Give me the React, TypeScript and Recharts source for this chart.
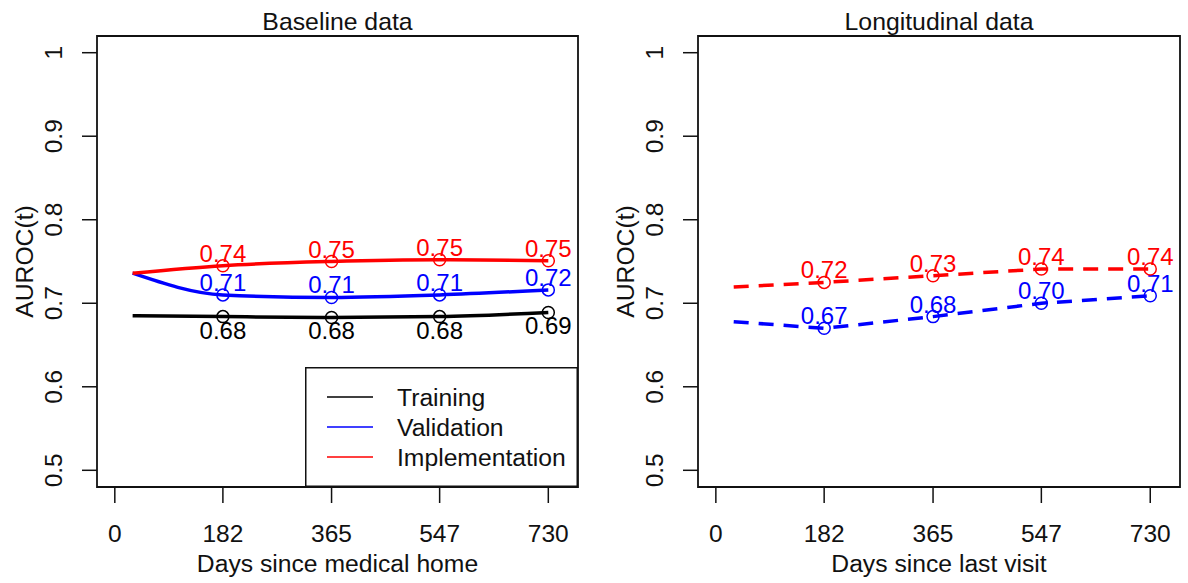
import { LineChart, Line, XAxis, YAxis, ReferenceArea, Legend, Label } from "recharts";

// days at which AUROC(t) was evaluated (first point is the curve start, no marker)
const days = [30, 182, 365, 547, 730];
const xTicks = [0, 182, 365, 547, 730];
const yTicks = [0.5, 0.6, 0.7, 0.8, 0.9, 1];

const baseTraining = [0.685, 0.684, 0.683, 0.684, 0.689];
const baseValidation = [0.736, 0.71, 0.707, 0.71, 0.716];
const baseImplementation = [0.736, 0.745, 0.75, 0.752, 0.751];
const baseTrainingLabels = ["", "0.68", "0.68", "0.68", "0.69"];
const baseValidationLabels = ["", "0.71", "0.71", "0.71", "0.72"];
const baseImplementationLabels = ["", "0.74", "0.75", "0.75", "0.75"];

const longValidation = [0.678, 0.67, 0.684, 0.7, 0.709];
const longImplementation = [0.7195, 0.725, 0.733, 0.741, 0.741];
const longValidationLabels = ["", "0.67", "0.68", "0.70", "0.71"];
const longImplementationLabels = ["", "0.72", "0.73", "0.74", "0.74"];

const FONT = '"Liberation Sans", Arial, Helvetica, sans-serif';
const INK = "#111";

interface Series {
  key: string;
  name: string;
  color: string;
  values: number[];
  labels: string[];
  below?: boolean;
}

function makeRows(series: Series[]) {
  return days.map((d, i) => {
    const row: Record<string, number> = { day: d };
    series.forEach((s) => (row[s.key] = s.values[i]));
    return row;
  });
}

function makeDot(s: Series) {
  return (props: any) => {
    const { cx, cy, index } = props;
    if (index === 0 || cx == null || cy == null) return <g key={`${s.key}-${index}`} />;
    return (
      <g key={`${s.key}-${index}`}>
        <circle cx={cx} cy={cy} r={6} fill="none" stroke={s.color} strokeWidth={1.5} />
        <text
          x={cx}
          y={s.below ? cy + 22 : cy - 4}
          textAnchor="middle"
          fontSize={24}
          fontFamily={FONT}
          fill={s.color}
        >
          {s.labels[index]}
        </text>
      </g>
    );
  };
}

function legendContent(series: Series[]) {
  return () => (
    <svg width={273} height={120} style={{ display: "block" }}>
      <rect x={0.75} y={0.75} width={271.5} height={118.5} fill="#fff" stroke={INK} strokeWidth={1.5} />
      {series.map((s, i) => (
        <g key={s.key}>
          <line x1={22} x2={68} y1={30 + i * 30} y2={30 + i * 30} stroke={s.color} strokeWidth={1.5} />
          <text x={92} y={38.5 + i * 30} fontSize={24.7} fontFamily={FONT} fill={INK}>
            {s.name}
          </text>
        </g>
      ))}
    </svg>
  );
}

interface PanelProps {
  title: string;
  xLabel: string;
  series: Series[];
  width: number;
  marginLeft: number;
  marginRight: number;
  dashed?: boolean;
  curve: "monotone" | "linear";
  legend?: boolean;
}

function Panel({ title, xLabel, series, width, marginLeft, marginRight, dashed, curve, legend }: PanelProps) {
  const rows = makeRows(series);
  const plotLeft = marginLeft + 60;

  const xTick = (props: any) => (
    <text x={props.x} y={542} textAnchor="middle" fontSize={24.5} fontFamily={FONT} fill={INK}>
      {props.payload.value}
    </text>
  );
  const yTick = (props: any) => {
    const cx = plotLeft - 44;
    return (
      <text
        x={cx}
        y={props.y}
        dy="0.35em"
        transform={`rotate(-90 ${cx} ${props.y})`}
        textAnchor="middle"
        fontSize={24.5}
        fontFamily={FONT}
        fill={INK}
      >
        {String(props.payload.value)}
      </text>
    );
  };

  return (
    <LineChart
      width={width}
      height={583}
      data={rows}
      margin={{ top: 36, right: marginRight, bottom: 36, left: marginLeft }}
    >
      <XAxis
        type="number"
        dataKey="day"
        domain={[-30, 780]}
        ticks={xTicks}
        interval={0}
        allowDataOverflow
        height={60}
        tickSize={16}
        axisLine={false}
        tickLine={{ stroke: INK, strokeWidth: 1.5 }}
        tick={xTick}
        label={
          <Label
            content={(p: any) => {
              const vb = p.viewBox || {};
              return (
                <text x={vb.x + vb.width / 2} y={572} textAnchor="middle" fontSize={24.7} fontFamily={FONT} fill={INK}>
                  {xLabel}
                </text>
              );
            }}
          />
        }
      />
      <YAxis
        type="number"
        domain={[0.48, 1.02]}
        ticks={yTicks}
        interval={0}
        allowDataOverflow
        width={60}
        tickSize={15}
        axisLine={false}
        tickLine={{ stroke: INK, strokeWidth: 1.5 }}
        tick={yTick}
        label={
          <Label
            content={(p: any) => {
              const vb = p.viewBox || {};
              const cy = vb.y + vb.height / 2;
              const cx = plotLeft - 72.5;
              return (
                <text
                  x={cx}
                  y={cy}
                  dy="0.35em"
                  transform={`rotate(-90 ${cx} ${cy})`}
                  textAnchor="middle"
                  fontSize={24.7}
                  fontFamily={FONT}
                  fill={INK}
                >
                  AUROC(t)
                </text>
              );
            }}
          />
        }
      />
      <ReferenceArea
        x1={-30}
        x2={780}
        y1={0.48}
        y2={1.02}
        fill="none"
        fillOpacity={0}
        stroke={INK}
        strokeWidth={1.8}
        label={
          <Label
            content={(p: any) => {
              const vb = p.viewBox || {};
              return (
                <text x={vb.x + vb.width / 2} y={30} textAnchor="middle" fontSize={24.8} fontFamily={FONT} fill={INK}>
                  {title}
                </text>
              );
            }}
          />
        }
      />
      {series.map((s) => (
        <Line
          key={s.key}
          type={curve}
          dataKey={s.key}
          name={s.name}
          stroke={s.color}
          strokeWidth={3.5}
          strokeDasharray={dashed ? "15 10" : undefined}
          dot={makeDot(s)}
          activeDot={false}
          isAnimationActive={false}
        />
      ))}
      {legend && (
        <Legend
          layout="vertical"
          align="center"
          verticalAlign="middle"
          wrapperStyle={{ left: 305, top: 367, width: 273, height: 120 }}
          content={legendContent(series)}
        />
      )}
    </LineChart>
  );
}

const baselineSeries: Series[] = [
  { key: "train", name: "Training", color: "#000000", values: baseTraining, labels: baseTrainingLabels, below: true },
  { key: "valid", name: "Validation", color: "#0000ff", values: baseValidation, labels: baseValidationLabels },
  { key: "impl", name: "Implementation", color: "#ff0000", values: baseImplementation, labels: baseImplementationLabels },
];

const longSeries: Series[] = [
  { key: "valid", name: "Validation", color: "#0000ff", values: longValidation, labels: longValidationLabels },
  { key: "impl", name: "Implementation", color: "#ff0000", values: longImplementation, labels: longImplementationLabels },
];

export default function App() {
  return (
    <div style={{ position: "absolute", left: 0, top: 0, width: 1188, height: 583, background: "#fff" }}>
      <div style={{ position: "absolute", left: 0, top: 0 }}>
        <Panel
          title="Baseline data"
          xLabel="Days since medical home"
          series={baselineSeries}
          width={600}
          marginLeft={37}
          marginRight={22}
          curve="monotone"
          legend
        />
      </div>
      <div style={{ position: "absolute", left: 600, top: 0 }}>
        <Panel
          title="Longitudinal data"
          xLabel="Days since last visit"
          series={longSeries}
          width={588}
          marginLeft={38}
          marginRight={8}
          curve="linear"
          dashed
        />
      </div>
    </div>
  );
}
